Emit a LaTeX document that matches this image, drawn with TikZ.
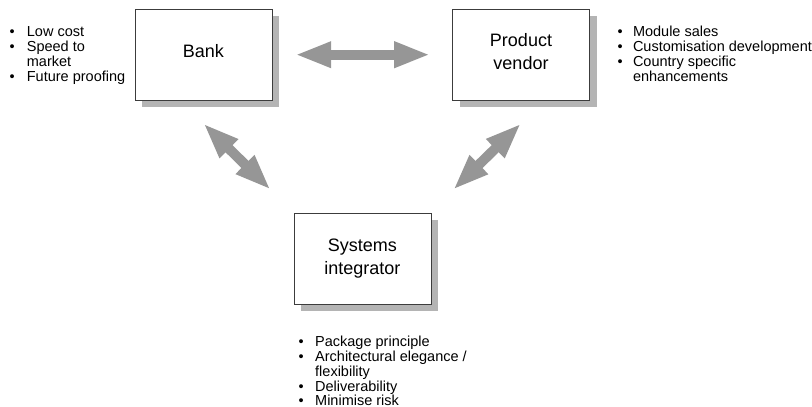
\documentclass[tikz,border=0pt]{standalone}
\usepackage{fontspec}
\setmainfont{Liberation Sans}
\usetikzlibrary{arrows.meta,shadows}
\definecolor{arrowgray}{RGB}{150,150,150}
\definecolor{shadowgray}{RGB}{180,180,180}
\definecolor{edgegray}{RGB}{60,60,60}
\tikzset{
  party/.style={draw=edgegray, line width=0.6pt, fill=white,
    minimum width=137pt, minimum height=91pt, inner sep=0pt,
    align=center, font=\fontsize{18}{23.3}\selectfont,
    drop shadow={shadow xshift=7pt, shadow yshift=-7pt,
      fill=shadowgray, opacity=1}},
  points/.style={anchor=base west, inner sep=0pt,
    font=\fontsize{14.5}{14.2}\selectfont},
  twoway/.style={draw=arrowgray, line width=10pt,
    {Triangle[length=36pt,width=24pt]}-{Triangle[length=36pt,width=24pt]}}
}
\begin{document}
\begin{tikzpicture}[x=1pt,y=1pt]
  \useasboundingbox (0,0) rectangle (812,-407);

  % the three parties
  \node[party, text depth=8pt] (bank) at (203.4,-54.7) {Bank};
  \node[party, text depth=6pt] (vendor) at (521,-54.7) {Product\\vendor};
  \node[party] (sys) at (362.4,-258.5) {Systems\\integrator};

  % interests of each party
  \node[points] (bankpts) at (9.3,-36.8)
    {\begin{tabular}[t]{@{}p{17.4pt}@{}l@{}}
      •&Low cost\\ •&Speed to\\ &market\\ •&Future proofing
     \end{tabular}};
  \node[points] (vendorpts) at (617.5,-36.8)
    {\begin{tabular}[t]{@{}p{15.3pt}@{}l@{}}
      •&Module sales\\ •&Customisation development\\ •&Country specific\\ &enhancements
     \end{tabular}};
  \node[points] (syspts) at (298.3,-346.7)
    {\begin{tabular}[t]{@{}p{16.7pt}@{}l@{}}
      •&Package principle\\ •&Architectural elegance /\\ &flexibility\\ •&Deliverability\\ •&Minimise risk
     \end{tabular}};

  % relationships
  \draw[twoway, shorten <=23pt, shorten >=22pt] (bank) -- (vendor);
  \draw[twoway] ([yshift=-23pt]bank.south) -- ([shift={(-23pt,23pt)}]sys.north west);
  \draw[twoway] ([yshift=-23pt]vendor.south) -- ([shift={(22pt,23pt)}]sys.north east);
\end{tikzpicture}
\end{document}
